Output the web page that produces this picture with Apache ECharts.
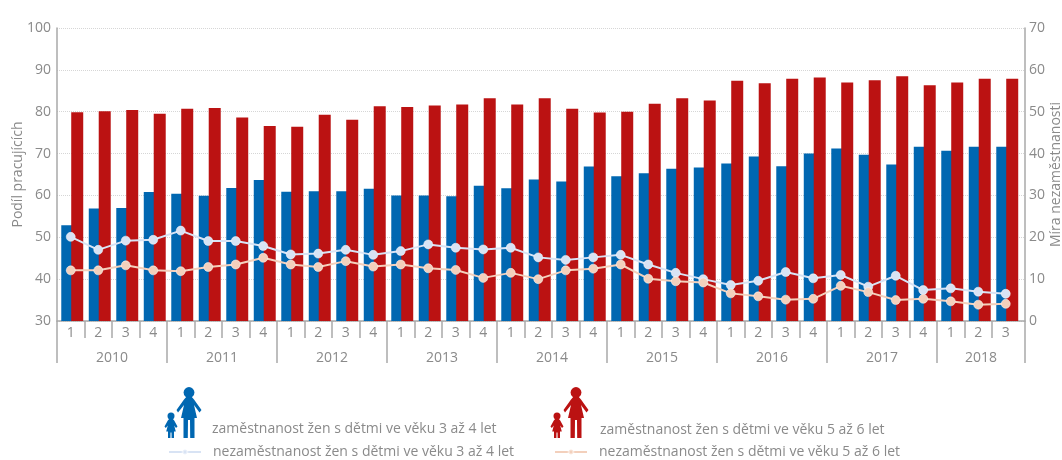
<!DOCTYPE html>
<html><head><meta charset="utf-8">
<style>html,body{margin:0;padding:0;background:#fff}#c{width:1062px;height:460px}</style>
<script src="https://cdn.jsdelivr.net/npm/echarts@6/dist/echarts.min.js"></script>
</head><body><div id="c"></div>
<script>
const years = ['2010','2011','2012','2013','2014','2015','2016','2017','2018'];
const quartersInYear = [4,4,4,4,4,4,4,4,3];
const quarterLabels = ['1','2','3','4','1','2','3','4','1','2','3','4','1','2','3','4','1','2','3','4','1','2','3','4','1','2','3','4','1','2','3','4','1','2','3'];
const empl34 = [52.9,56.9,57,60.8,60.4,59.9,61.8,63.7,60.9,61,61,61.6,60,60,59.8,62.3,61.7,63.8,63.3,66.9,64.6,65.3,66.4,66.7,67.6,69.3,67,70,71.2,69.7,67.4,71.6,70.7,71.6,71.6];
const empl56 = [79.9,80.1,80.4,79.5,80.7,80.9,78.6,76.6,76.4,79.3,78.1,81.3,81.1,81.5,81.7,83.2,81.7,83.2,80.7,79.8,80,81.9,83.2,82.7,87.4,86.8,87.9,88.2,87,87.5,88.5,86.3,87,87.9,87.9];
const unemp34 = [20.1,17,19.2,19.4,21.6,19.1,19.1,17.9,15.9,16.1,17,15.8,16.7,18.3,17.5,17.1,17.5,15.2,14.6,15.2,15.8,13.5,11.5,10,8.6,9.6,11.7,10.2,11,8.2,10.8,7.4,7.8,7,6.5];
const unemp56 = [12.1,12.1,13.3,12.1,11.9,12.9,13.5,15.1,13.5,12.9,14.3,13,13.5,12.6,12.2,10.3,11.5,10,12.1,12.5,13.5,10.1,9.5,9.2,6.6,5.9,5.1,5.3,8.4,6.9,5,5.3,4.7,3.9,4.1];
const names = ['zaměstnanost žen s dětmi ve věku 3 až 4 let','zaměstnanost žen s dětmi ve věku 5 až 6 let','nezaměstnanost žen s dětmi ve věku 3 až 4 let','nezaměstnanost žen s dětmi ve věku 5 až 6 let'];

const BLUE='#0067b1', RED='#bb1212', LBLUE='#d8e3f4', LORANGE='#f3d0bc', AX='#a9a9a9', TXT='#8a8a8a', FONT='"Open Sans"';
const lastEdge = 35.2;
let acc=0; const yearEdges=[0], yearMids=[];
quartersInYear.forEach(q=>{yearMids.push(acc+q/2); acc+=q; yearEdges.push(acc);});
yearEdges[yearEdges.length-1]=lastEdge; yearMids[yearMids.length-1]=(acc-3+lastEdge)/2;
const quarterTicks = quarterLabels.map((_,i)=>i).concat([lastEdge]);
const frame={top:28,bottom:139,outerBoundsMode:'none'};
const motherBody=[[-2,9],[2,9],[5,12.5],[12.5,23],[10.5,25.5],[5,18],[8,31],[5.5,31],[5.5,51],[1.2,51],[1,33],[-1,33],[-1.2,51],[-5.5,51],[-5.5,31],[-8,31],[-5,18],[-11,25.5],[-12.5,23],[-5,12.5]];
const childBody=[[-1.5,6],[1.5,6],[3.2,8],[6.5,14],[5,15.5],[3.2,13],[4.8,19],[3,19],[3,25.5],[.6,25.5],[.5,20],[-.5,20],[-.6,25.5],[-3,25.5],[-3,19],[-4.8,19],[-3.2,13],[-5.2,15.5],[-6.5,14],[-3.2,8]];
const fig=(mx,cx,color)=>[
 {type:'polygon',x:mx,y:387,shape:{points:motherBody},style:{fill:color}},
 {type:'circle',x:mx,y:392.5,shape:{r:5.4},style:{fill:color}},
 {type:'polygon',x:cx,y:412.5,shape:{points:childBody},style:{fill:color}},
 {type:'circle',x:cx,y:416,shape:{r:3.5},style:{fill:color}}];
const legendBase={selectedMode:false,padding:0,textStyle:{color:TXT,fontFamily:FONT,fontSize:14}};
const noIcon={...legendBase,icon:'none',itemWidth:0,itemHeight:10};
const lineLeg={...legendBase,itemWidth:32,itemHeight:6,textStyle:{...legendBase.textStyle,padding:[0,0,0,7]}};

const option={
 animation:false,
 grid:[
  {left:57,right:37,...frame},
  {left:58.5,width:962.5,...frame},
  {left:57,width:962.5,...frame}
 ],
 xAxis:[
  {gridIndex:0,type:'value',min:0,max:lastEdge,position:'bottom',splitLine:{show:false},
   axisLine:{show:true,onZero:false,lineStyle:{color:AX,width:1.5}},
   axisTick:{show:true,length:17,customValues:quarterTicks,lineStyle:{color:AX,width:1.5}},
   axisLabel:{show:false}},
  {gridIndex:0,type:'value',min:0,max:lastEdge,position:'bottom',splitLine:{show:false},
   axisLine:{show:false,onZero:false},
   axisTick:{show:true,length:42,customValues:yearEdges,lineStyle:{color:AX,width:1.5}},
   axisLabel:{show:true,customValues:yearMids,margin:30,color:TXT,fontFamily:FONT,fontSize:14,
    formatter:v=>years[yearMids.indexOf(v)]||''}},
  {gridIndex:1,type:'category',data:quarterLabels,show:false},
  {gridIndex:2,type:'category',data:quarterLabels,position:'bottom',
   axisLine:{show:false},axisTick:{show:false},
   axisLabel:{interval:0,margin:5,color:TXT,fontFamily:FONT,fontSize:14}}
 ],
 yAxis:[
  {gridIndex:0,type:'value',min:30,max:100,interval:10,position:'left',name:'Podíl pracujících',nameLocation:'middle',nameGap:32,nameRotate:90,nameMoveOverlap:false,
   nameTextStyle:{color:TXT,fontFamily:FONT,fontSize:14},
   axisLine:{show:true,onZero:false,lineStyle:{color:AX,width:1.5}},axisTick:{show:false},
   axisLabel:{margin:6,color:TXT,fontFamily:FONT,fontSize:14,padding:[0,0,6,0]},
   splitLine:{show:true,lineStyle:{color:'#d6d6d6',type:'dotted',width:1}}},
  {gridIndex:0,type:'value',min:0,max:70,interval:10,position:'right',name:'Míra nezaměstnanosti',nameLocation:'middle',nameGap:24,nameRotate:90,nameMoveOverlap:false,
   nameTextStyle:{color:TXT,fontFamily:FONT,fontSize:14},
   axisLine:{show:true,onZero:false,lineStyle:{color:AX,width:1.5}},axisTick:{show:false},
   axisLabel:{margin:4,color:TXT,fontFamily:FONT,fontSize:14,padding:[0,0,6,0]},
   splitLine:{show:false}},
  {gridIndex:1,type:'value',min:30,max:100,interval:10,show:false,splitLine:{show:false}},
  {gridIndex:2,type:'value',min:0,max:70,interval:10,show:false,splitLine:{show:false}}
 ],
 legend:[
  {...noIcon,left:207,top:422,data:[names[0]]},
  {...noIcon,left:595,top:423,data:[names[1]]},
  {...lineLeg,left:168,top:445,data:[names[2]]},
  {...lineLeg,left:554,top:445,data:[names[3]]}
 ],
 series:[
  {name:names[0],type:'bar',xAxisIndex:2,yAxisIndex:2,data:empl34,barWidth:12,barGap:'-17%',itemStyle:{color:BLUE},z:2},
  {name:names[1],type:'bar',xAxisIndex:2,yAxisIndex:2,data:empl56,barWidth:12,barGap:'-17%',itemStyle:{color:RED},z:3},
  {name:names[2],type:'line',xAxisIndex:3,yAxisIndex:3,data:unemp34,symbol:'circle',symbolSize:9,z:5,
   lineStyle:{color:LBLUE,width:2},itemStyle:{color:LBLUE,borderColor:'rgba(255,255,255,0.5)',borderWidth:1}},
  {name:names[3],type:'line',xAxisIndex:3,yAxisIndex:3,data:unemp56,symbol:'circle',symbolSize:9,z:5,
   lineStyle:{color:LORANGE,width:2},itemStyle:{color:LORANGE,borderColor:'rgba(255,255,255,0.5)',borderWidth:1}}
 ],
 graphic:[...fig(189,171,BLUE),...fig(576,557,RED)]
};
const chart=echarts.init(document.getElementById('c'),null,{renderer:'canvas'});
chart.setOption(option);
</script></body></html>
